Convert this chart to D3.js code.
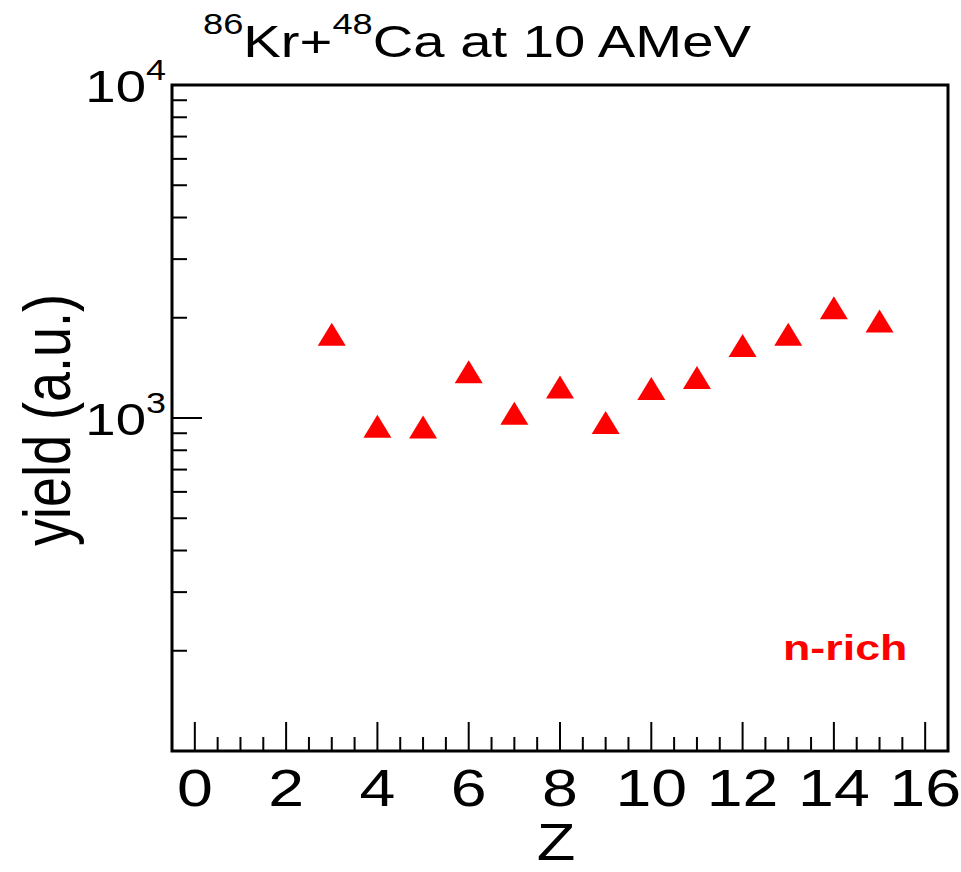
<!DOCTYPE html>
<html><head><meta charset="utf-8">
<script src="https://cdn.jsdelivr.net/npm/d3@7"></script>
<style>html,body{margin:0;padding:0;background:#fff;} svg{display:block;font-family:"Liberation Sans",Arial,sans-serif;}</style>
</head><body>
<svg id="c" width="961" height="872"></svg>
<script>
const zValues = [3,4,5,6,7,8,9,10,11,12,13,14,15];
const yieldValues = [1784,945,940,1377,1034,1240,969,1226,1323,1650,1784,2143,1954];
const xMajorTicks = [0,2,4,6,8,10,12,14,16];
const xMinorTicks = [0.5,1,1.5,2.5,3,3.5,4.5,5,5.5,6.5,7,7.5,8.5,9,9.5,10.5,11,11.5,12.5,13,13.5,14.5,15,15.5];
const yMajorTicks = [1000,10000];
const yMajorExp = ["3","4"];
const yMinorTicks = [200,300,400,500,600,700,800,900,2000,3000,4000,5000,6000,7000,8000,9000];

const svg = d3.select("#c");
const L=172, R=948, T=85, B=751, SX=1.24;
const x = d3.scaleLinear().domain([-0.5,16.5]).range([L,R]);
const y = d3.scaleLog().domain([100,10000]).range([B,T]);

// x ticks (inward)
const gx = svg.append("g");
gx.selectAll("line.mn").data(xMinorTicks).join("line").attr("class","mn")
  .attr("x1",d=>x(d)).attr("x2",d=>x(d)).attr("y1",B).attr("y2",B-14);
gx.selectAll("line.mj").data(xMajorTicks).join("line").attr("class","mj")
  .attr("x1",d=>x(d)).attr("x2",d=>x(d)).attr("y1",B).attr("y2",B-29);
gx.selectAll("line").attr("stroke","#000").attr("stroke-width",2);

// x tick labels
svg.append("g").selectAll("text").data(xMajorTicks).join("text")
  .attr("transform",d=>`translate(${x(d)},${B+55}) scale(${SX},1)`)
  .attr("text-anchor","middle").attr("font-size",52).attr("fill","#000")
  .text(d3.format("d"));

// y ticks (inward)
const gy = svg.append("g");
gy.selectAll("line.mn").data(yMinorTicks).join("line").attr("class","mn")
  .attr("y1",d=>y(d)).attr("y2",d=>y(d)).attr("x1",L).attr("x2",L+15);
gy.selectAll("line.mj").data(yMajorTicks).join("line").attr("class","mj")
  .attr("y1",d=>y(d)).attr("y2",d=>y(d)).attr("x1",L).attr("x2",L+30);
gy.selectAll("line").attr("stroke","#000").attr("stroke-width",2);

// y tick labels 10^n
yMajorTicks.forEach((v,i)=>{
  const t = svg.append("text").attr("transform",`translate(166,${y(v)+17}) scale(${SX},1)`)
    .attr("text-anchor","end").attr("fill","#000");
  t.append("tspan").attr("font-size",44).text("10");
  t.append("tspan").attr("font-size",29).attr("dy",-22).text(yMajorExp[i]);
});

// frame
svg.append("rect").attr("x",L).attr("y",T).attr("width",R-L).attr("height",B-T)
  .attr("fill","none").attr("stroke","#000").attr("stroke-width",3);

// markers
svg.append("g").selectAll("path").data(zValues).join("path")
  .attr("d","M0,-11.5L14,11.5L-14,11.5Z")
  .attr("transform",(d,i)=>`translate(${x(d)},${y(yieldValues[i])})`)
  .attr("fill","#ff0000");

// title
const tt = svg.append("text").attr("transform",`translate(203,57) scale(1.25,1)`).attr("fill","#000");
tt.append("tspan").attr("font-size",29).attr("dy",-23).text("86");
tt.append("tspan").attr("font-size",45).attr("dy",23).text("Kr+");
tt.append("tspan").attr("font-size",29).attr("dy",-23).text("48");
tt.append("tspan").attr("font-size",45).attr("dy",23).text("Ca at 10 AMeV");

// axis titles
svg.append("text").attr("transform",`translate(556,860) scale(${SX},1)`).attr("text-anchor","middle")
  .attr("font-size",51).attr("fill","#000").text("Z");
svg.append("text").attr("transform",`translate(70,420) rotate(-90) scale(1,${SX})`).attr("text-anchor","middle")
  .attr("font-size",54).attr("fill","#000").text("yield (a.u.)");

// label
svg.append("text").attr("transform",`translate(783,660) scale(1.28,1)`).attr("font-size",35)
  .attr("font-weight","bold").attr("fill","#ff0000").text("n-rich");
</script>
</body></html>
